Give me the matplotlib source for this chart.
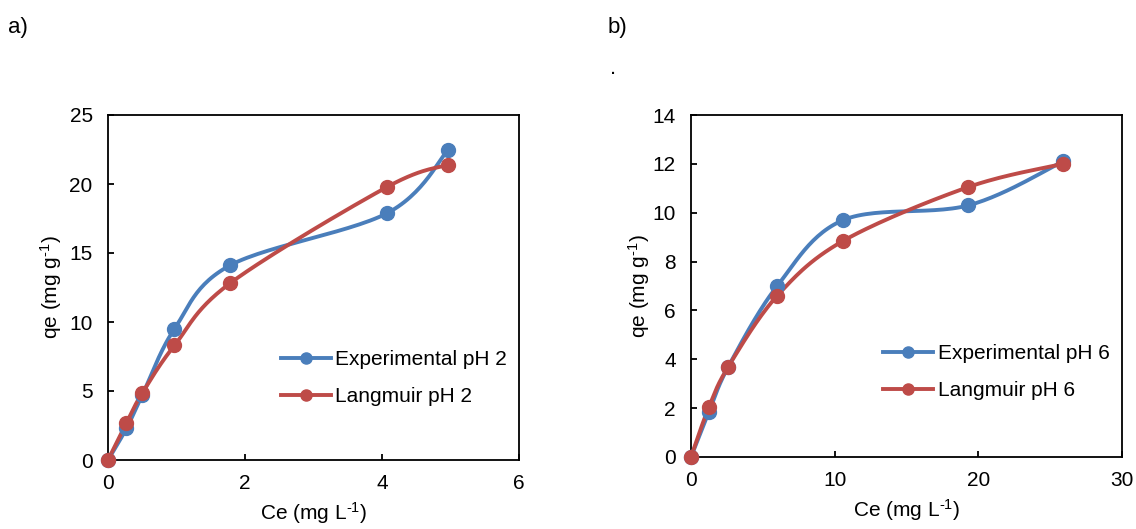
import numpy as np
import matplotlib
matplotlib.use("Agg")
import matplotlib.pyplot as plt

plt.rcParams['font.family'] = ['Liberation Sans', 'DejaVu Sans']
plt.rcParams['mathtext.fontset'] = 'custom'
plt.rcParams['mathtext.rm'] = 'Liberation Sans'
plt.rcParams['mathtext.it'] = 'Liberation Sans'

# panel a) pH 2
ce_ph2 = [0.0, 0.27, 0.5, 0.97, 1.78, 4.08, 4.97]
qe_exp_ph2 = [0.0, 2.3, 4.7, 9.5, 14.1, 17.9, 22.5]
ce_lang_ph2 = [0.0, 0.27, 0.5, 0.97, 1.78, 4.08, 4.97]
qe_lang_ph2 = [0.0, 2.7, 4.85, 8.3, 12.8, 19.8, 21.4]

# panel b) pH 6
ce_ph6 = [0.0, 1.25, 2.6, 6.0, 10.6, 19.3, 25.9]
qe_exp_ph6 = [0.0, 1.85, 3.7, 7.0, 9.7, 10.3, 12.1]
ce_lang_ph6 = [0.0, 1.25, 2.6, 6.0, 10.6, 19.3, 25.9]
qe_lang_ph6 = [0.0, 2.05, 3.7, 6.6, 8.85, 11.05, 12.0]

BLUE = '#4A7EBB'
RED = '#BE4B48'
FS = 15


def smooth(x, y, n=30):
    """Excel-style smoothed line (Catmull-Rom through the points)."""
    x = np.asarray(x, float)
    y = np.asarray(y, float)
    px = np.concatenate([[x[0]], x, [x[-1]]])
    py = np.concatenate([[y[0]], y, [y[-1]]])
    xs, ys = [], []
    t = np.linspace(0, 1, n)
    for i in range(1, len(px) - 2):
        p0, p1, p2, p3 = (np.array([px[j], py[j]]) for j in range(i - 1, i + 3))
        c1 = p1 + (p2 - p0) / 6.0
        c2 = p2 - (p3 - p1) / 6.0
        b = (((1 - t) ** 3)[:, None] * p1 + (3 * (1 - t) ** 2 * t)[:, None] * c1
             + (3 * (1 - t) * t ** 2)[:, None] * c2 + (t ** 3)[:, None] * p2)
        xs.extend(b[:, 0])
        ys.extend(b[:, 1])
    return xs, ys


def draw_panel(ax, x1, y1, x2, y2, lab1, lab2, xlim, xticks, ylim, yticks,
               leg_y, ylab_pad):
    for x, y, c, lab in ((x1, y1, BLUE, lab1), (x2, y2, RED, lab2)):
        sx, sy = smooth(x, y)
        ax.plot(sx, sy, color=c, lw=2.8, zorder=3, clip_on=False)
        ax.plot(x, y, 'o', color=c, ms=10, zorder=4, clip_on=False)
        ax.plot([], [], '-o', color=c, lw=2.8, ms=8, label=lab)
    ax.set_xlim(*xlim)
    ax.set_ylim(*ylim)
    ax.set_xticks(xticks)
    ax.set_yticks(yticks)
    ax.tick_params(direction='in', length=4, width=1.3, labelsize=FS)
    ax.tick_params(axis='x', pad=10)
    ax.tick_params(axis='y', pad=11)
    for s in ax.spines.values():
        s.set_linewidth(1.3)
    ax.set_xlabel('Ce (mg L$^{\u20101}$)', fontsize=FS, labelpad=5)
    ax.set_ylabel('qe (mg g$^{\u20101}$)', fontsize=FS, labelpad=ylab_pad)
    ax.legend(loc='lower right', bbox_to_anchor=(1.0, leg_y), frameon=False,
              fontsize=FS, handlelength=2.4, handletextpad=0.2,
              labelspacing=0.85, borderaxespad=0.2)


fig = plt.figure(figsize=(11.36, 5.29), dpi=100)
ax1 = fig.add_axes([108 / 1136, 1 - 460 / 529, 411 / 1136, 345 / 529])
ax2 = fig.add_axes([691 / 1136, 1 - 457 / 529, 431 / 1136, 342 / 529])

draw_panel(ax1, ce_ph2, qe_exp_ph2, ce_lang_ph2, qe_lang_ph2,
           'Experimental pH 2', 'Langmuir pH 2',
           (0, 6), [0, 2, 4, 6], (0, 25), [0, 5, 10, 15, 20, 25], 0.12, 4)
draw_panel(ax2, ce_ph6, qe_exp_ph6, ce_lang_ph6, qe_lang_ph6,
           'Experimental pH 6', 'Langmuir pH 6',
           (0, 30), [0, 10, 20, 30], (0, 14), [0, 2, 4, 6, 8, 10, 12, 14], 0.13, 0)

fig.text(8 / 1136, 1 - 27 / 529, 'a)', fontsize=16, va='center')
fig.text(608 / 1136, 1 - 27 / 529, 'b)', fontsize=16, va='center')
fig.text(610 / 1136, 1 - 68 / 529, '.', fontsize=16, va='center')

fig.savefig('out.png', dpi=100)
